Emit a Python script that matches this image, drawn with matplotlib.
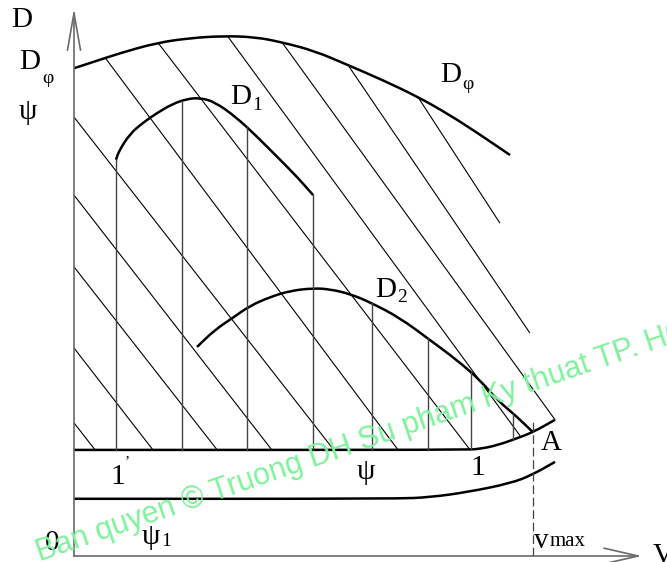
import numpy as np
import matplotlib
matplotlib.use("Agg")
import matplotlib.pyplot as plt
from matplotlib.path import Path
from matplotlib.patches import PathPatch

# === DATA (v in % of vmax, D in % of max Dφ) ===
dphi_v = [0, 3.5, 10.0, 18.1, 25.3, 32.5, 39.4, 45.3, 52.5, 59.7, 67.3, 74.9, 81.5, 88.0, 95.0]
dphi_D = [93.8, 94.8, 96.7, 98.7, 99.6, 100, 99.8, 98.8, 97.1, 94.4, 91.5, 88.3, 85.0, 81.3, 77.1]

d1_v = [9.15, 9.8, 12.2, 15.0, 18.1, 21.4, 24.6, 27.5, 30.7, 35.3, 39.7, 44.9, 48.6, 52.1]
d1_D = [76.2, 77.9, 81.2, 83.3, 85.2, 86.9, 87.9, 88.1, 87.3, 84.4, 80.8, 76.2, 72.9, 69.4]

d2_v = [26.8, 30.7, 34.6, 38.3, 42.7, 47.1, 52.1, 55.8, 60.1, 64.5, 71.0, 77.6, 83.4, 88.5, 92.2, 96.1, 100]
d2_D = [40.2, 43.5, 45.8, 48.1, 49.8, 51.0, 51.5, 51.3, 50.4, 48.8, 45.8, 41.5, 37.7, 33.8, 30.0, 27.1, 23.8]

psi_v = [0, 85.0, 88.5, 92.2, 96.1, 100, 104.8]
psi_D = [20.4, 20.4, 20.6, 21.3, 22.5, 23.8, 26.2]

psi1_v = [0, 70.2, 77.6, 85.8, 95.2, 99.8, 104.8]
psi1_D = [11.0, 11.0, 11.3, 12.3, 14.0, 15.6, 18.1]

# ordinates under D1 and D2
d1_cuts = [9.15, 23.5, 37.7, 52.1]
d2_cuts = [64.9, 77.1, 86.5, 95.6]

# diagonal hatching of the Dφ region (start -> end)
hatch_v0 = [0, 0, 0, 0, 0, 6.8, 18.3, 33.6, 45.3, 59.7, 74.9]
hatch_D0 = [25.6, 40.0, 55.6, 69.4, 84.4, 95.8, 98.7, 99.8, 98.8, 94.4, 88.3]
hatch_v1 = [4.6, 17.2, 31.2, 43.1, 56.6, 70.6, 86.3, 97.2, 104.8, 99.3, 92.8]
hatch_D1 = [20.4, 20.4, 20.4, 20.4, 20.4, 20.4, 20.4, 23.1, 26.2, 42.9, 64.0]

V_MAX = 100
WATERMARK = "Ban quyen © Truong DH Su pham Ky thuat TP. HCM"

SERIF = "Liberation Serif"
CURVE_LW = 1.8


def smooth_curve(ax, xs, ys, **kw):
    """Draw a curve through the points as chained quadratic Beziers."""
    pts = list(zip(xs, ys))
    verts = [pts[0]]
    codes = [Path.MOVETO]
    if len(pts) > 2:
        mid = ((pts[0][0] + pts[1][0]) / 2, (pts[0][1] + pts[1][1]) / 2)
        verts.append(mid)
        codes.append(Path.LINETO)
        for i in range(1, len(pts) - 1):
            nxt = ((pts[i][0] + pts[i + 1][0]) / 2, (pts[i][1] + pts[i + 1][1]) / 2)
            verts += [pts[i], nxt]
            codes += [Path.CURVE3, Path.CURVE3]
    verts.append(pts[-1])
    codes.append(Path.LINETO)
    ax.add_patch(PathPatch(Path(verts, codes), fill=False, capstyle="butt", **kw))


fig = plt.figure(figsize=(6.67, 5.62), dpi=100)
ax = fig.add_axes([0, 0, 1, 1])
ax.set_xlim(-16.12, 129.19)
ax.set_ylim(-1.154, 106.92)
ax.axis("off")

# hatching
for v0, y0, v1, y1 in zip(hatch_v0, hatch_D0, hatch_v1, hatch_D1):
    ax.plot([v0, v1], [y0, y1], color="black", lw=0.8, solid_capstyle="butt")

# ordinates
for v in d1_cuts:
    ax.plot([v, v], [np.interp(v, psi_v, psi_D), np.interp(v, d1_v, d1_D)],
            color="#444444", lw=1.0)
for v in d2_cuts:
    ax.plot([v, v], [np.interp(v, psi_v, psi_D), np.interp(v, d2_v, d2_D)],
            color="#444444", lw=1.0)

# main curves
for xs, ys in [(dphi_v, dphi_D), (d1_v, d1_D), (d2_v, d2_D),
               (psi_v, psi_D), (psi1_v, psi1_D)]:
    smooth_curve(ax, xs, ys, edgecolor="black", lw=CURVE_LW)

# vmax marker
ax.plot([V_MAX, V_MAX], [0, 26.2], color="#444444", lw=0.9, linestyle=(0, (7, 3)))

# axes with open arrow heads
axis_col = "#6a6a6a"
ax.plot([0, 0], [0, 104.4], color=axis_col, lw=1.2)
ax.plot([-1.42, 0, 1.42], [97.3, 104.4, 97.3], color=axis_col, lw=1.2)
ax.plot([0, 122.9], [0, 0], color=axis_col, lw=1.2)
ax.plot([115.5, 122.9, 115.5], [1.5, 0, -1.5], color=axis_col, lw=1.2)

# labels
big = dict(family=SERIF, fontsize=21, ha="center", va="center", color="black")
small = dict(family=SERIF, fontsize=14, ha="center", va="center", color="black")

ax.text(-11.3, 103.1, "D", **big)
ax.text(-9.6, 95.0, "D", **big)
ax.text(-5.7, 91.9, "φ", **small)
ax.text(-10.0, 85.4, "ψ", **big)

ax.text(82.1, 92.5, "D", **big)
ax.text(85.8, 90.6, "φ", **small)
ax.text(36.4, 88.3, "D", **big)
ax.text(39.9, 86.7, "1", **small)
ax.text(68.0, 51.2, "D", **big)
ax.text(71.5, 49.8, "2", **small)

ax.text(103.9, 21.7, "A", **big)
ax.text(9.6, 15.2, "1", **big)
ax.text(11.6, 18.2, "’", family=SERIF, fontsize=11, ha="center", va="center")
ax.text(63.6, 16.2, "ψ", **big)
ax.text(87.9, 16.9, "1", **big)

ax.text(-4.8, 2.5, "0", **big)
ax.text(16.8, 3.7, "ψ", **big)
ax.text(20.0, 2.7, "1", **small)
ax.text(101.8, 2.9, "v", **big)
ax.text(103.6, 2.7, "max", family=SERIF, fontsize=15, ha="left", va="center")
ax.text(126.0, 0, "V", family=SERIF, fontsize=21, ha="left", va="center")

# watermark
ax.text(-7.4, -1.0, WATERMARK, family="Liberation Sans", fontsize=22,
        color="#80f29c", rotation=19, rotation_mode="anchor",
        ha="left", va="baseline", zorder=10)

fig.savefig("out.png", dpi=100)
